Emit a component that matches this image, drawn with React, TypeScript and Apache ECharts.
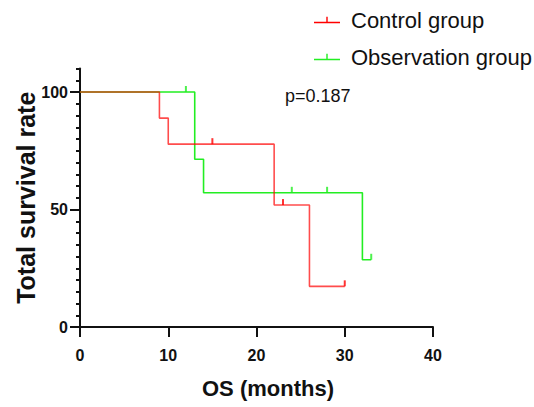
import React, { useEffect, useRef } from 'react';
import * as echarts from 'echarts';

const controlTimes = [0, 9, 10, 22, 26, 30];
const controlSurvival = [100, 88.9, 77.8, 51.9, 17.3, 17.3];
const controlCensorTimes = [15, 23, 30];
const controlCensorSurvival = [77.8, 51.9, 17.3];

const observationTimes = [0, 13, 14, 32, 33];
const observationSurvival = [100, 71.4, 57.1, 28.6, 28.6];
const observationCensorTimes = [12, 24, 28, 33];
const observationCensorSurvival = [100, 57.1, 57.1, 28.6];

const xTicks = [0, 10, 20, 30, 40];
const yTickLabels = [0, 50, 100];
const yAxisTop = 110;
const yMinorStep = 5;
const pValueText = 'p=0.187';
const seriesNames = ['Control group', 'Observation group'];

const RED = '#ff0000';
const GREEN = '#22ee22';
const FONT = '"Liberation Sans", Arial, Helvetica, sans-serif';

const pairs = (xs: number[], ys: number[]) => xs.map((x, i) => [x, ys[i]]);

export default function App() {
  const ref = useRef<HTMLDivElement>(null);
  useEffect(() => {
    document.body.style.margin = '0';
    if (!ref.current) return;
    const chart = echarts.init(ref.current, undefined, { renderer: 'svg' });
    const xMin = xTicks[0];
    const xMax = xTicks[xTicks.length - 1];
    const xInterval = xTicks[1] - xTicks[0];
    const yMin = yTickLabels[0];
    const yMax = yTickLabels[yTickLabels.length - 1];
    const yInterval = yTickLabels[1] - yTickLabels[0];

    const plotTopPx = 68.5;
    const plotBottomPx = 80;
    const plotHeight = 407 - plotTopPx - plotBottomPx;
    const grid1Top = plotTopPx + plotHeight * (yAxisTop - yMax) / (yAxisTop - yMin);

    const tickIcon = 'path://M0,5 L26,5 L26,6.6 L0,6.6 Z M12.3,0 L13.7,0 L13.7,5 L12.3,5 Z';

    chart.setOption({
      animation: false,
      backgroundColor: '#ffffff',
      textStyle: { fontFamily: FONT },
      grid: [
        { left: 80, right: 101, top: plotTopPx, bottom: plotBottomPx, containLabel: false },
        { left: 80, right: 101, top: grid1Top, bottom: plotBottomPx, containLabel: false },
      ],
      legend: {
        data: seriesNames,
        orient: 'vertical',
        left: 309,
        top: 4,
        itemGap: 15,
        itemWidth: 26,
        itemHeight: 7,
        icon: tickIcon,
        selectedMode: false,
        textStyle: { fontFamily: FONT, fontSize: 22, color: '#111', padding: [0, 0, 0, 6] },
      },
      xAxis: [
        {
          gridIndex: 0,
          type: 'value',
          min: xMin,
          max: xMax,
          interval: xInterval,
          name: 'OS (months)',
          nameLocation: 'middle',
          nameGap: 50,
          nameTextStyle: { fontFamily: FONT, fontSize: 22, fontWeight: 'bold', color: '#111', padding: [0, 0, 0, 23] },
          axisLine: { show: true, onZero: false, lineStyle: { color: '#111', width: 2 } },
          axisTick: { show: true, length: 10, lineStyle: { color: '#111', width: 2 } },
          axisLabel: { fontFamily: FONT, fontSize: 16, fontWeight: 'bold', color: '#111', margin: 20 },
          splitLine: { show: false },
        },
        {
          gridIndex: 1,
          type: 'value',
          min: xMin,
          max: xMax,
          show: false,
        },
      ],
      yAxis: [
        {
          gridIndex: 0,
          type: 'value',
          min: yMin,
          max: yAxisTop,
          interval: yMinorStep,
          name: 'Total survival rate',
          nameLocation: 'middle',
          nameGap: 42,
          nameTextStyle: { fontFamily: FONT, fontSize: 25, fontWeight: 'bold', color: '#111' },
          axisLine: { show: true, onZero: false, lineStyle: { color: '#111', width: 2 } },
          axisTick: { show: true, length: 4, lineStyle: { color: '#111', width: 2 } },
          axisLabel: { show: false },
          splitLine: { show: false },
        },
        {
          gridIndex: 1,
          type: 'value',
          min: yMin,
          max: yMax,
          interval: yInterval,
          axisLine: { show: false },
          axisTick: { show: true, length: 10, lineStyle: { color: '#111', width: 2 } },
          axisLabel: { fontFamily: FONT, fontSize: 16, fontWeight: 'bold', color: '#111', margin: 12 },
          splitLine: { show: false },
        },
      ],
      graphic: [
        {
          type: 'text',
          left: 285,
          top: 87,
          style: { text: pValueText, font: `18px ${FONT}`, fill: '#111' },
        },
      ],
      series: [
        {
          name: seriesNames[1],
          type: 'line',
          step: 'end',
          xAxisIndex: 0,
          yAxisIndex: 0,
          symbol: 'none',
          data: pairs(observationTimes, observationSurvival),
          lineStyle: { color: GREEN, width: 1.6 },
          itemStyle: { color: GREEN },
          z: 2,
        },
        {
          name: seriesNames[1],
          type: 'scatter',
          xAxisIndex: 0,
          yAxisIndex: 0,
          symbol: 'rect',
          symbolSize: [2, 6],
          symbolOffset: [0, -3],
          data: pairs(observationCensorTimes, observationCensorSurvival),
          itemStyle: { color: GREEN },
          z: 3,
        },
        {
          name: seriesNames[0],
          type: 'line',
          step: 'end',
          xAxisIndex: 0,
          yAxisIndex: 0,
          symbol: 'none',
          data: pairs(controlTimes, controlSurvival),
          lineStyle: { color: RED, width: 1.6, opacity: 0.7 },
          itemStyle: { color: RED },
          z: 4,
        },
        {
          name: seriesNames[0],
          type: 'scatter',
          xAxisIndex: 0,
          yAxisIndex: 0,
          symbol: 'rect',
          symbolSize: [2, 6],
          symbolOffset: [0, -3],
          data: pairs(controlCensorTimes, controlCensorSurvival),
          itemStyle: { color: RED },
          z: 5,
        },
      ],
    });
    return () => chart.dispose();
  }, []);
  return <div ref={ref} style={{ width: 534, height: 407 }} />;
}
